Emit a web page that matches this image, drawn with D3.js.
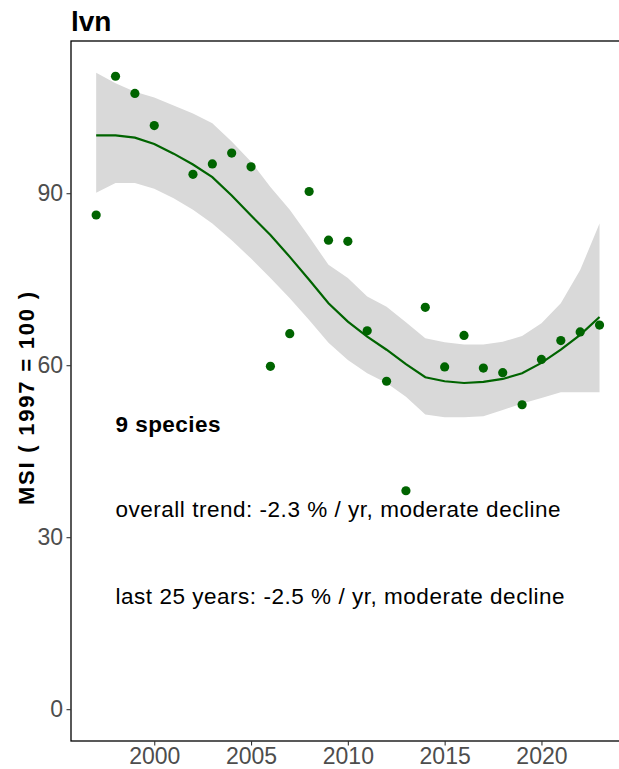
<!DOCTYPE html>
<html>
<head>
<meta charset="utf-8">
<script src="https://cdn.jsdelivr.net/npm/d3@7"></script>
<style>
  html, body { margin: 0; padding: 0; background: #fff; }
  svg { display: block; font-family: "Liberation Sans", Arial, sans-serif; }
</style>
</head>
<body>
<svg id="chart" width="619" height="769"></svg>
<script>
// ---- data ----
const title = "lvn";
const yLabel = "MSI ( 1997 = 100 )";
const pointYears = [1997,1998,1999,2000,2002,2003,2004,2005,2006,2007,2008,2009,2010,2011,2012,2013,2014,2015,2016,2017,2018,2019,2020,2021,2022,2023];
const pointValues = [86.2,110.4,107.4,101.8,93.3,95.1,97.0,94.6,59.8,65.5,90.3,81.8,81.6,66.0,57.2,38.1,70.1,59.7,65.2,59.5,58.7,53.1,61.0,64.3,65.8,67.0];
const trendYears = [1997,1998,1999,2000,2001,2002,2003,2004,2005,2006,2007,2008,2009,2010,2011,2012,2013,2014,2015,2016,2017,2018,2019,2020,2021,2022,2023];
const trendValues = [100.1,100.1,99.7,98.6,96.9,95.0,92.8,89.6,86.1,82.7,78.9,74.9,70.8,67.6,65.0,62.7,60.2,57.9,57.2,56.9,57.1,57.6,58.6,60.4,62.7,65.3,68.4];
const upperValues = [111.0,109.2,107.7,106.7,105.3,103.9,102.2,99.0,95.5,91.1,87.1,82.4,77.5,75.2,72.0,70.2,67.5,64.7,64.0,63.6,63.6,64.1,65.1,67.3,70.8,76.6,84.7];
const lowerValues = [90.1,91.8,91.8,90.8,89.1,87.1,84.7,81.8,78.6,75.2,71.7,67.9,63.9,60.9,58.6,56.9,54.5,51.4,50.9,50.9,51.1,52.2,53.3,54.3,55.3,55.3,55.3];
const xTicks = [2000,2005,2010,2015,2020];
const yTicks = [0,30,60,90];
const annotations = ["9 species", "overall trend: -2.3 % / yr, moderate decline", "last 25 years: -2.5 % / yr, moderate decline"];

// ---- layout ----
const svg = d3.select("#chart");
const pLeft = 71, pTop = 41, pBottom = 741, pRight = 624.7;
const xMin = 1997, xMax = 2023, yMin = 0, yMax = 111;
const xPad = (xMax - xMin) * 0.05, yPad = (yMax - yMin) * 0.05;
const x = d3.scaleLinear().domain([xMin - xPad, xMax + xPad]).range([pLeft, pRight]);
const y = d3.scaleLinear().domain([yMin - yPad, yMax + yPad]).range([pBottom, pTop]);

const green = "#006400";

// band
const band = trendYears.map((yr, i) => ({yr, lo: lowerValues[i], hi: upperValues[i]}));
svg.append("path")
  .datum(band)
  .attr("fill", "#d9d9d9")
  .attr("d", d3.area().x(d => x(d.yr)).y0(d => y(d.lo)).y1(d => y(d.hi)));

// trend line
const trend = trendYears.map((yr, i) => ({yr, v: trendValues[i]}));
svg.append("path")
  .datum(trend)
  .attr("fill", "none")
  .attr("stroke", green)
  .attr("stroke-width", 2.2)
  .attr("d", d3.line().x(d => x(d.yr)).y(d => y(d.v)));

// points
svg.append("g").selectAll("circle")
  .data(pointYears.map((yr, i) => ({yr, v: pointValues[i]})))
  .join("circle")
  .attr("cx", d => x(d.yr))
  .attr("cy", d => y(d.v))
  .attr("r", 4.6)
  .attr("fill", green);

// panel border
svg.append("rect")
  .attr("x", pLeft).attr("y", pTop)
  .attr("width", pRight - pLeft).attr("height", pBottom - pTop)
  .attr("fill", "none").attr("stroke", "#000").attr("stroke-width", 1.3);

// axes
const xAxis = svg.append("g")
  .attr("transform", `translate(0,${pBottom})`)
  .call(d3.axisBottom(x).tickValues(xTicks).tickFormat(d3.format("d")).tickSize(4.5).tickPadding(3));
const yAxis = svg.append("g")
  .attr("transform", `translate(${pLeft},0)`)
  .call(d3.axisLeft(y).tickValues(yTicks).tickSize(4.5).tickPadding(3.5));
[xAxis, yAxis].forEach(g => {
  g.select(".domain").remove();
  g.selectAll(".tick line").attr("stroke", "#333").attr("stroke-width", 1.1);
  g.selectAll(".tick text")
    .attr("fill", "#4d4d4d")
    .style("font-size", "23px")
    .style("font-family", '"Liberation Sans", Arial, sans-serif');
});
xAxis.selectAll(".tick text").attr("y", 23).attr("dy", 0);

// title
svg.append("text")
  .attr("x", pLeft).attr("y", 31)
  .style("font-size", "28px").style("font-weight", "bold")
  .attr("fill", "#000")
  .text(title);

// y label
svg.append("text")
  .attr("transform", `translate(33.5,398.5) rotate(-90)`)
  .attr("text-anchor", "middle")
  .attr("textLength", 213).attr("lengthAdjust", "spacing")
  .style("font-size", "22px").style("font-weight", "bold")
  .attr("fill", "#000")
  .text(yLabel);

// annotations
const annY = [431.7, 517.3, 603.5];
const annW = [105, 445, 449];
annotations.forEach((t, i) => {
  svg.append("text")
    .attr("x", 115.5).attr("y", annY[i])
    .attr("textLength", annW[i]).attr("lengthAdjust", "spacing")
    .style("font-size", i === 0 ? "22.5px" : "22.5px")
    .style("font-weight", i === 0 ? "bold" : "normal")
    .attr("fill", "#000")
    .text(t);
});
</script>
</body>
</html>
